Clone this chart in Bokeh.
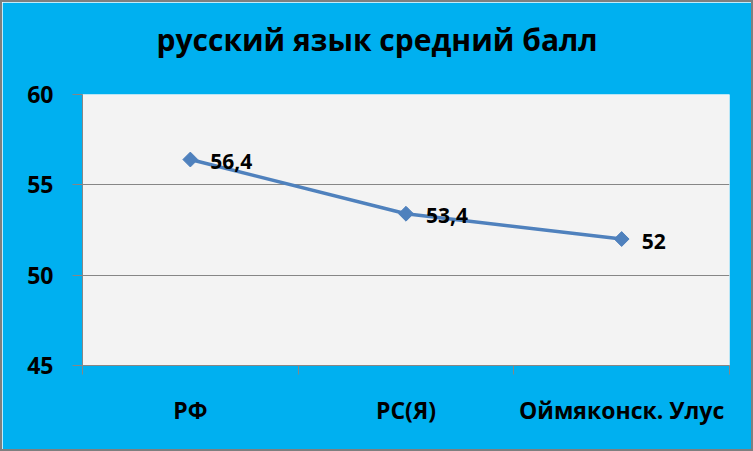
from bokeh.plotting import figure
from bokeh.models import Range1d, FixedTicker, LinearAxis, ColumnDataSource, Title
from bokeh.embed import file_html
from bokeh.resources import INLINE
from bokeh.core.properties import value

title_text = "русский язык средний балл"
categories = ["РФ", "РС(Я)", "Оймяконск. Улус"]
scores = [56.4, 53.4, 52.0]
score_labels = ["56,4", "53,4", "52"]
y_ticks = [45, 50, 55, 60]

FONT = "Open Sans"
BG = "#00B0F0"
LINE = "#4F81BD"
GRID = "#868686"

xs = [i + 0.5 for i in range(len(categories))]
src = ColumnDataSource(dict(x=xs, y=scores, lab=score_labels))

p = figure(width=753, height=451, output_backend="svg", toolbar_location=None,
           x_range=Range1d(0, len(categories)), y_range=Range1d(y_ticks[0], y_ticks[-1]),
           min_border_left=80, min_border_right=26, min_border_top=92, min_border_bottom=88,
           x_axis_location=None)

p.background_fill_color = "#F3F3F3"
p.border_fill_color = BG
p.outline_line_color = None
p.styles = {"box-sizing": "border-box", "border": "2px solid #7F7F7F"}

# main title (outermost) plus a spacer panel between it and the plot area
p.title.text = title_text
p.title.align = "left"
p.title.offset = 74
p.title.standoff = 20
p.title.text_font = FONT
p.title.text_font_size = "30px"
p.title.text_font_style = "bold"
p.title.text_color = "black"
spacer = Title(text=" ", text_font_size="1px", standoff=22)
p.add_layout(spacer, "above")

# y axis
ya = p.yaxis[0]
ya.ticker = FixedTicker(ticks=y_ticks)
ya.minor_tick_line_color = None
ya.major_tick_in = 0
ya.major_tick_out = 10
ya.major_tick_line_color = GRID
ya.axis_line_color = GRID
ya.major_label_text_font = FONT
ya.major_label_text_font_size = "23px"
ya.major_label_text_font_style = "bold"
ya.major_label_text_color = "black"
ya.major_label_standoff = 19

p.ygrid.ticker = FixedTicker(ticks=y_ticks)
p.ygrid.grid_line_color = GRID
p.xgrid.grid_line_color = None

# x axis: ticks at category boundaries
xa = LinearAxis(ticker=FixedTicker(ticks=list(range(len(categories) + 1))))
xa.major_label_text_font_size = "0px"
xa.major_label_text_color = None
xa.minor_tick_line_color = None
xa.major_tick_in = 0
xa.major_tick_out = 9
xa.major_tick_line_color = GRID
xa.axis_line_color = GRID
p.add_layout(xa, "below")

# x axis category labels
xl = LinearAxis(ticker=FixedTicker(ticks=xs))
xl.major_label_overrides = {x: c for x, c in zip(xs, categories)}
xl.major_label_text_font = FONT
xl.major_label_text_font_size = "23px"
xl.major_label_text_font_style = "bold"
xl.major_label_text_color = "black"
xl.axis_line_color = None
xl.major_tick_line_color = None
xl.minor_tick_line_color = None
xl.major_label_standoff = 13
p.add_layout(xl, "below")

p.line("x", "y", source=src, line_color=LINE, line_width=3.5)
p.scatter("x", "y", source=src, marker="square", angle=0.785398, size=10.5,
          fill_color=LINE, line_color=LINE)
p.text("x", "y", text="lab", source=src, x_offset=20, y_offset=2,
       text_font=value(FONT), text_font_size="21px", text_font_style="bold",
       text_color="black", text_baseline="middle", text_align="left")

open("out.html", "w").write(file_html(p, INLINE))
